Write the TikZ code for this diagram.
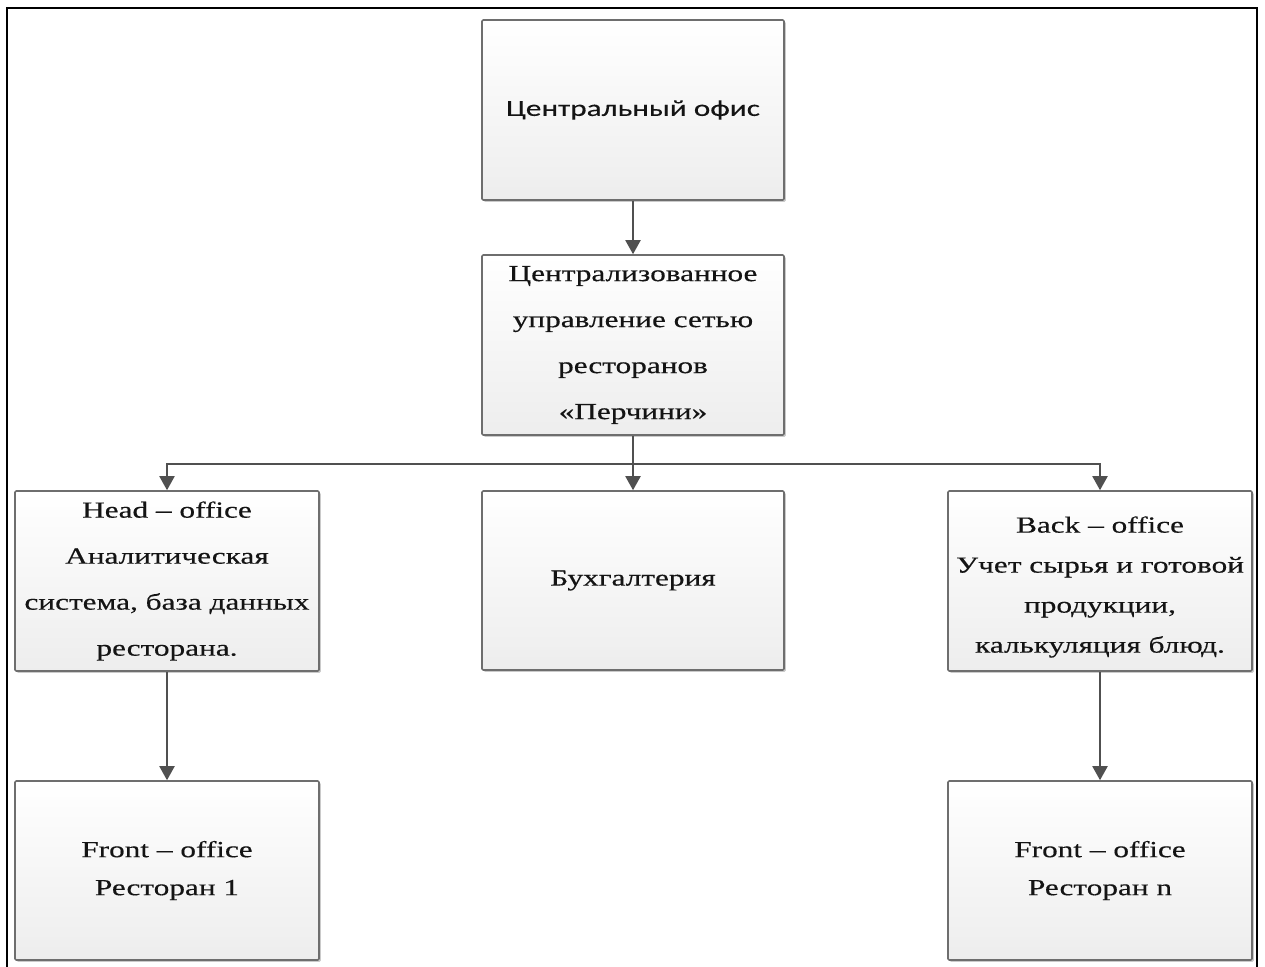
\documentclass[tikz,border=0pt]{standalone}
\usepackage{fontspec}
\setmainfont{Liberation Serif}[FakeStretch=1.36,FakeBold=0.4]
\newfontfamily\boxsans{Carlito}[FakeStretch=1.36,FakeBold=0.3]
\usetikzlibrary{arrows.meta,shadows}

\definecolor{edge}{HTML}{6E6E6E}
\definecolor{wire}{HTML}{505050}
\definecolor{ink}{HTML}{141414}

\tikzset{
  unit/.style={rectangle, rounded corners=1.2pt, draw=edge, line width=1.6pt,
    top color=white, bottom color=black!7,
    drop shadow={shadow xshift=1.8pt, shadow yshift=-1.8pt, opacity=0.35, fill=black!60},
    align=center, inner sep=0pt, text=ink,
    font=\fontsize{23}{46}\selectfont},
  caption/.style={align=center, inner sep=0pt, text=ink},
  wide/.style={minimum width=302pt},
  side/.style={minimum width=304pt},
  tall/.style={minimum height=180pt},
  arr/.style={draw=wire, line width=2pt,
    -{Triangle[width=15pt,length=14pt]}},
}

\begin{document}
\begin{tikzpicture}[x=1pt,y=-1pt]
  \useasboundingbox (0,0) rectangle (1265,966);

  % outer frame, open at the bottom
  \draw[line width=2.4pt] (7,970) -- (7,8) -- (1257,8) -- (1257,970);

  % boxes
  \node[unit,wide,tall,font=\boxsans\fontsize{23}{30}\selectfont] (hq) at (633,110)
    {Центральный офис};
  \node[unit,wide,tall] (mgmt) at (633,345)
    {Централизованное\\управление сетью\\ресторанов\\«Перчини»};
  \node[unit,side,tall] (head) at (167,581)
    {Head – office\\Аналитическая\\система, база данных\\ресторана.};
  \node[unit,wide,minimum height=179pt] (acc) at (633,580.5)
    {Бухгалтерия};
  \node[unit,side,tall] (back) at (1100,581) {};
  \node[caption,font=\fontsize{23}{40}\selectfont] (backtext) at ([yshift=-6pt]back.center)
    {Back – office\\Учет сырья и готовой\\продукции,\\калькуляция блюд.};
  \node[unit,side,minimum height=179pt,font=\fontsize{23}{38}\selectfont] (front1) at (167,870.5)
    {Front – office\\Ресторан 1};
  \node[unit,side,minimum height=179pt,font=\fontsize{23}{38}\selectfont] (frontn) at (1100,870.5)
    {Front – office\\Ресторан n};

  % connectors
  \coordinate (split) at (633,464);
  \draw[arr] (hq) -- (mgmt);
  \draw[arr] (mgmt) -- (acc);
  \draw[arr] (split) -| (head);
  \draw[arr] (split) -| (back);
  \draw[arr] (head) -- (front1);
  \draw[arr] (back) -- (frontn);
\end{tikzpicture}
\end{document}
